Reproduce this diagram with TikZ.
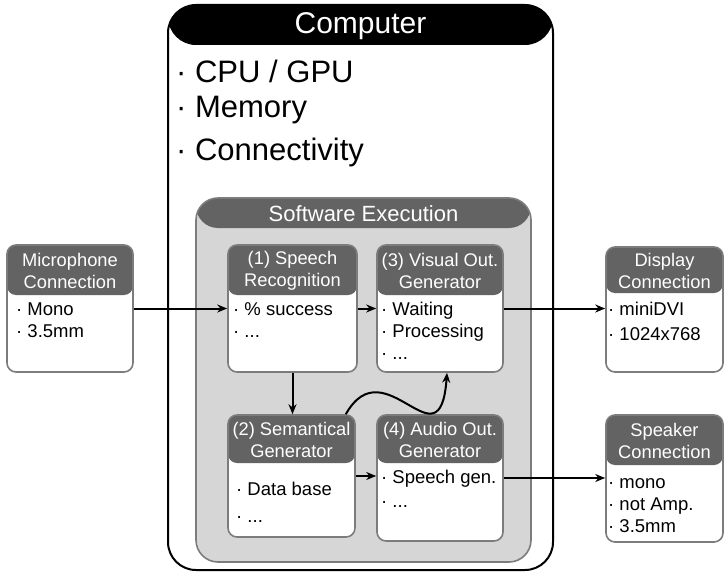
\documentclass[tikz,border=0pt]{standalone}
\usepackage{fontspec}
\setmainfont{Liberation Sans}
\usepackage{tikz}
\usetikzlibrary{positioning,arrows,arrows.meta}
\definecolor{headgray}{HTML}{636363}
\definecolor{panelgray}{HTML}{D6D6D6}
\definecolor{edgegray}{HTML}{7C7C7C}
\newcommand{\blist}[1]{\begin{tabular}[t]{@{}l@{}}#1\end{tabular}}
\tikzstyle{arrow} = [line width=2pt,-{Stealth[length=10pt,width=8pt]}]
\tikzset{
  block/.style 2 args={draw=edgegray, line width=1.6pt, fill=white, rounded corners=9pt, inner sep=0pt,
    path picture={\fill[#2] (path picture bounding box.north west) rectangle ([yshift=-#1]path picture bounding box.north east);}},
  head/.style={white, font=\fontsize{18.3}{21.5}\selectfont, align=center, inner sep=0pt},
  items/.style={black, font=\fontsize{18.5}{22}\selectfont, inner sep=0pt, anchor=base west},
}

\begin{document}
\begin{tikzpicture}[x=1pt,y=-1pt]
\useasboundingbox (0,0) rectangle (725,572);
% computer
\node[block={40pt}{black}, draw=black, line width=2pt, rounded corners=28pt, minimum width=385pt, minimum height=565pt] (pc) at (360.5,287.5) {};
\node[head, font=\fontsize{30}{34}\selectfont] (pctitle) at (360.5,26) {Computer};
\node[items, font=\fontsize{31}{34}\selectfont] (cpu) at (176,83) {· CPU / GPU};
\node[items, font=\fontsize{31}{34}\selectfont] (mem) at (176,118) {· Memory};
\node[items, font=\fontsize{31}{34}\selectfont] (conn) at (176,161) {· Connectivity};
% software
\node[block={30pt}{headgray}, fill=panelgray, rounded corners=22pt, minimum width=335pt, minimum height=364pt] (sw) at (363.5,380) {};
\node[head, font=\fontsize{22}{25}\selectfont] (swtitle) at (363.5,214) {Software Execution};
% blocks
\node[block={50pt}{headgray}, minimum width=126pt, minimum height=127pt] (mic) at (70,308.5) {};
\node[head] (mictitle) at (70,271) {Microphone\\Connection};
\node[items] (micitems) at (16,315) {\blist{· Mono\\· 3.5mm}};

\node[block={50pt}{headgray}, minimum width=129pt, minimum height=127pt] (rec) at (292.5,308.5) {};
\node[head] (rectitle) at (292.5,271) {(1) Speech\\Recognition};
\node[items] (recitems) at (233,315) {\blist{· \% success\\· ...}};

\node[block={50pt}{headgray}, minimum width=126pt, minimum height=127pt] (vis) at (440,308.5) {};
\node[head] (vistitle) at (440,271) {(3) Visual Out.\\Generator};
\node[items] (visitems) at (381,315) {\blist{· Waiting\\· Processing\\· ...}};

\node[block={48pt}{headgray}, minimum width=127pt, minimum height=122pt] (sem) at (291.5,476) {};
\node[head] (semtitle) at (291.5,440) {(2) Semantical\\Generator};
\node[items, font=\fontsize{18.5}{27}\selectfont] (semitems) at (236,495) {\blist{· Data base\\· ...}};

\node[block={48pt}{headgray}, minimum width=126pt, minimum height=126pt] (aud) at (440,478) {};
\node[head] (audtitle) at (440,440) {(4) Audio Out.\\Generator};
\node[items, font=\fontsize{18.5}{24}\selectfont] (auditems) at (381,483) {\blist{· Speech gen.\\· ...}};

\node[block={46pt}{headgray}, minimum width=117pt, minimum height=125pt] (disp) at (664.5,309.5) {};
\node[head] (disptitle) at (664.5,271) {Display\\Connection};
\node[items, font=\fontsize{18.5}{25}\selectfont] (dispitems) at (608,315) {\blist{· miniDVI\\· 1024x768}};

\node[block={50pt}{headgray}, minimum width=117pt, minimum height=127pt] (spk) at (664.5,478.5) {};
\node[head] (spktitle) at (664.5,441) {Speaker\\Connection};
\node[items] (spkitems) at (608,488) {\blist{· mono\\· not Amp.\\· 3.5mm}};
% connections
\draw[arrow] (mic) -- (rec);
\draw[arrow] (rec) -- (vis);
\draw[arrow] (vis.east) -- (vis.east -| disp.west);
\draw[arrow] (rec.south) -- (rec.south |- sem.north);
\draw[arrow] (sem.east) -- (sem.east -| aud.west);
\draw[arrow] (aud.east) -- (aud.east -| spk.west);
\draw[arrow] ([xshift=-10pt]sem.north east) .. controls (385,345) and (440,470) .. ([xshift=7pt]vis.south);
\end{tikzpicture}
\end{document}
